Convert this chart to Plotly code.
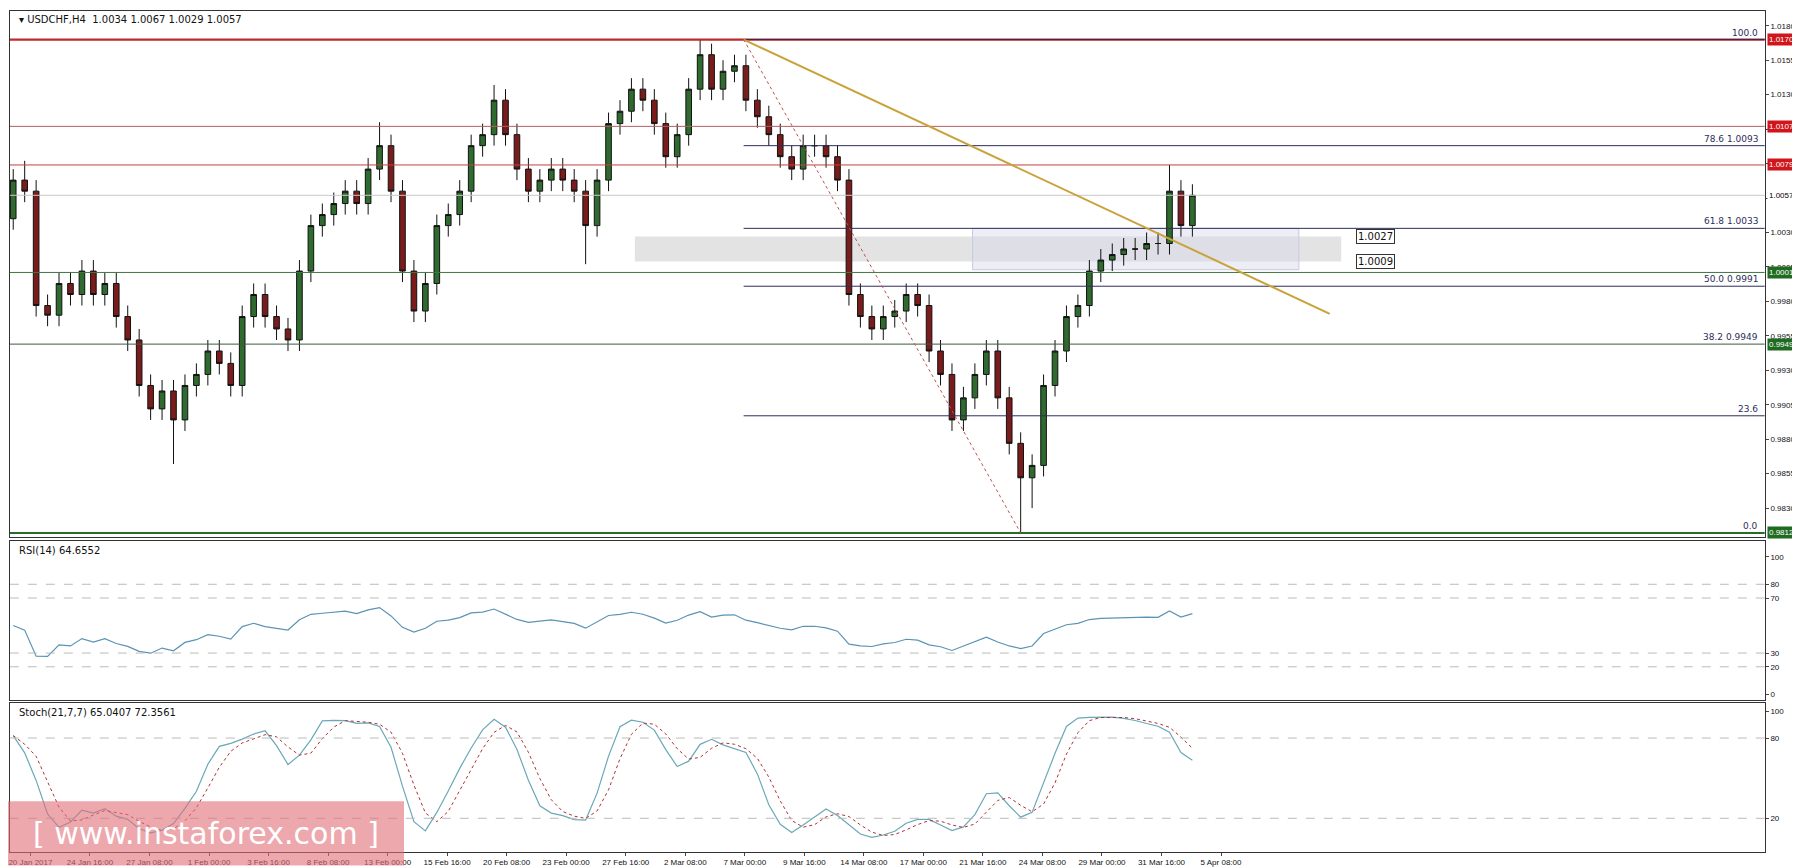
import plotly.graph_objects as go
import pandas as pd
import numpy as np

closes = [1.0068,1.0060,0.9977,0.9970,0.9993,0.9985,1.0002,0.9985,0.9993,0.9969,
          0.9952,0.9919,0.9902,0.9915,0.9894,0.9919,0.9927,0.9944,0.9935,0.9919,
          0.9969,0.9985,0.9969,0.9960,0.9952,1.0002,1.0035,1.0043,1.0051,1.0060,
          1.0051,1.0076,1.0093,1.0060,1.0002,0.9973,0.9993,1.0035,1.0043,1.0060,
          1.0093,1.0101,1.0126,1.0101,1.0076,1.0060,1.0068,1.0076,1.0068,1.0060,
          1.0035,1.0068,1.0109,1.0118,1.0134,1.0126,1.0109,1.0085,1.0101,1.0134,
          1.0159,1.0134,1.0147,1.0151,1.0126,1.0114,1.0101,1.0085,1.0076,1.0093,
          1.0093,1.0085,1.0068,0.9985,0.9969,0.9960,0.9969,0.9973,0.9985,0.9977,
          0.9944,0.9927,0.9894,0.9910,0.9927,0.9944,0.9910,0.9877,0.9852,0.9861,
          0.9919,0.9944,0.9969,0.9977,1.0002,1.0010,1.0014,1.0018,1.0018,1.0022,
          1.0022,1.0060,1.0035,1.0057]
first_open = 1.0040
wick = [0.0008]*len(closes)
extreme_high = {60: 1.0170, 32: 1.0110, 42: 1.0137, 1: 1.0082, 101: 1.0079}
extreme_low = {88: 0.9812, 14: 0.9862, 89: 0.9830, 50: 1.0007}

tick_labels = ["20 Jan 2017","24 Jan 16:00","27 Jan 08:00","1 Feb 00:00","3 Feb 16:00",
               "8 Feb 08:00","13 Feb 00:00","15 Feb 16:00","20 Feb 08:00","23 Feb 00:00",
               "27 Feb 16:00","2 Mar 08:00","7 Mar 00:00","9 Mar 16:00","14 Mar 08:00",
               "17 Mar 00:00","21 Mar 16:00","24 Mar 08:00","29 Mar 00:00","31 Mar 16:00",
               "5 Apr 08:00"]
tick_pos = [1.5 + 5.2*k for k in range(len(tick_labels))]

n = len(closes)
idx = list(range(n))
opens = [first_open] + closes[:-1]
highs = [max(o, c) + w for o, c, w in zip(opens, closes, wick)]
lows = [min(o, c) - w for o, c, w in zip(opens, closes, wick)]
for k, v in extreme_high.items(): highs[k] = v
for k, v in extreme_low.items(): lows[k] = v

s = pd.Series(closes)
d = s.diff().fillna(0)
up = d.clip(lower=0).ewm(alpha=1/14, adjust=False).mean() + 0.0004
dn = (-d.clip(upper=0)).ewm(alpha=1/14, adjust=False).mean() + 0.0004
rsi = 100 - 100/(1+up/dn)
hh = pd.Series(highs).rolling(7, min_periods=1).max()
ll = pd.Series(lows).rolling(7, min_periods=1).min()
k_ = ((s-ll)/(hh-ll)*100).rolling(3, min_periods=1).mean()
d_ = k_.rolling(3, min_periods=1).mean()

fig = go.Figure()
fig.add_trace(go.Candlestick(x=idx, open=opens, high=highs, low=lows, close=closes,
    increasing=dict(line=dict(color="#111", width=1), fillcolor="#2f6b2f"),
    decreasing=dict(line=dict(color="#111", width=1), fillcolor="#7a1c1c"),
    whiskerwidth=0, showlegend=False, xaxis="x", yaxis="y"))
fig.add_trace(go.Scatter(x=idx, y=rsi, mode="lines", line=dict(color="#5b93b5", width=1.2),
    showlegend=False, xaxis="x2", yaxis="y2"))
fig.add_trace(go.Scatter(x=idx, y=k_, mode="lines", line=dict(color="#6aa8b8", width=1.2),
    showlegend=False, xaxis="x3", yaxis="y3"))
fig.add_trace(go.Scatter(x=idx, y=d_, mode="lines", line=dict(color="#b03030", width=1, dash="dot"),
    showlegend=False, xaxis="x3", yaxis="y3"))

XR = [-0.3, 153]
DOM = [0.001, 0.976]
ax = dict(range=XR, showgrid=False, zeroline=False, showline=True, linecolor="#333", mirror=True,
          rangeslider=dict(visible=False), ticks="")
yt = dict(size=8, family="Liberation Sans")
fig.update_layout(
    width=1800, height=868, paper_bgcolor="white", plot_bgcolor="white",
    margin=dict(l=0, r=0, t=0, b=0), font=dict(family="DejaVu Sans", size=10, color="#111"),
    xaxis=dict(ax, domain=DOM, anchor="y", showticklabels=False),
    xaxis2=dict(ax, domain=DOM, anchor="y2", showticklabels=False, matches="x"),
    xaxis3=dict(ax, domain=DOM, anchor="y3", matches="x", tickvals=tick_pos,
                ticktext=tick_labels, ticks="outside", ticklen=3,
                tickfont=dict(size=8, family="Liberation Sans"), tickangle=0),
    yaxis=dict(domain=[0.390, 0.997], range=[0.98087, 1.0191], side="right", showgrid=False,
               tickvals=[round(0.9805+0.0025*i, 4) for i in range(16)], tickformat=".4f", tickfont=yt,
               ticks="outside", ticklen=3, showline=True, linecolor="#333", mirror=True, zeroline=False),
    yaxis2=dict(domain=[0.203, 0.386], range=[-4, 111.5], side="right", showgrid=False, tickfont=yt,
                tickvals=[0, 20, 30, 70, 80, 100], ticks="outside", ticklen=3,
                showline=True, linecolor="#333", mirror=True, zeroline=False),
    yaxis3=dict(domain=[0.028, 0.199], range=[-5, 106], side="right", showgrid=False, tickfont=yt,
                tickvals=[20, 80, 100], ticks="outside", ticklen=3,
                showline=True, linecolor="#333", mirror=True, zeroline=False),
)

shapes = []
def hline(y, color, width=1, x0=XR[0], x1=XR[1], dash="solid", yref="y", xref="x"):
    shapes.append(dict(type="line", xref=xref, yref=yref, x0=x0, x1=x1, y0=y, y1=y,
                       line=dict(color=color, width=width, dash=dash)))
for v in [20, 30, 70, 80]:
    hline(v, "#bbb", 1, dash="dash", yref="y2", xref="x2")
for v in [20, 80]:
    hline(v, "#bbb", 1, dash="dash", yref="y3", xref="x3")
shapes.append(dict(type="rect", xref="x", yref="y", x0=54.3, x1=116, y0=1.0009, y1=1.0027,
                   fillcolor="rgba(200,200,200,0.5)", line=dict(width=0), layer="below"))
shapes.append(dict(type="rect", xref="x", yref="y", x0=83.8, x1=112.3, y0=1.0003, y1=1.0033,
                   fillcolor="rgba(215,215,235,0.45)", line=dict(color="#c8c8e0", width=1), layer="below"))
hline(1.0170, "#c0282d", 2.2)
hline(1.0107, "#b06060", 1)
hline(1.0079, "#c04040", 1)
hline(1.0057, "#c8c8c8", 1)
hline(1.0001, "#3d7a3d", 1)
hline(0.9949, "#3d5a3d", 1)
hline(0.9812, "#2a6a2a", 2)
for v in [1.0170, 1.0093, 1.0033, 0.9991, 0.9897]:
    hline(v, "#2d2d5a", 1, x0=63.8)
shapes.append(dict(type="line", xref="x", yref="y", x0=63.8, x1=115, y0=1.0170, y1=0.9971,
                   line=dict(color="#c9a23a", width=2)))
shapes.append(dict(type="line", xref="x", yref="y", x0=63.8, x1=88, y0=1.0170, y1=0.9812,
                   line=dict(color="#c05050", width=1, dash="dot")))
shapes.append(dict(type="rect", xref="paper", yref="paper", x0=0, x1=0.22, y0=0.012, y1=0.086,
                   fillcolor="rgba(225,110,120,0.6)", line=dict(width=0)))
fig.update_layout(shapes=shapes)

ann = []
def box(y, txt, bg, fc="white"):
    ann.append(dict(xref="paper", yref="y", x=0.977, y=y, text=txt, showarrow=False, xanchor="left",
                    font=dict(size=8, color=fc, family="Liberation Sans"), bgcolor=bg, borderpad=1))
box(1.0170, "1.0170", "#d0151b"); box(1.0107, "1.0107", "#d0151b"); box(1.0079, "1.0079", "#d0151b")
box(1.0057, "1.0057", "white", "#000"); box(1.0001, "1.0001", "#1f6b1f"); box(0.9949, "0.9949", "#1f6b1f")
box(0.9812, "0.9812", "#1f6b1f")
for v, t in [(1.0170, "100.0"), (1.0093, "78.6 1.0093"), (1.0033, "61.8 1.0033"), (0.9991, "50.0 0.9991"),
             (0.9949, "38.2 0.9949"), (0.9897, "23.6"), (0.9812, "0.0")]:
    ann.append(dict(xref="x", yref="y", x=152.6, y=v, text=t, showarrow=False, xanchor="right",
                    yanchor="bottom", font=dict(size=9, color="#2d2d5a")))
for v, t in [(1.0027, "1.0027"), (1.0009, "1.0009")]:
    ann.append(dict(xref="x", yref="y", x=117.3, y=v, text=t,
                    showarrow=False, xanchor="left", font=dict(size=10), bgcolor="white",
                    bordercolor="#333", borderwidth=1, borderpad=1))
ann.append(dict(xref="paper", yref="paper", x=0.005, y=0.995, xanchor="left", yanchor="top", showarrow=False,
                text="▾ USDCHF,H4  1.0034 1.0067 1.0029 1.0057", font=dict(size=10)))
ann.append(dict(xref="paper", yref="paper", x=0.005, y=0.384, xanchor="left", yanchor="top", showarrow=False,
                text="RSI(14) 64.6552", font=dict(size=10)))
ann.append(dict(xref="paper", yref="paper", x=0.005, y=0.197, xanchor="left", yanchor="top", showarrow=False,
                text="Stoch(21,7,7) 65.0407 72.3561", font=dict(size=10)))
ann.append(dict(xref="paper", yref="paper", x=0.11, y=0.049, xanchor="center", yanchor="middle", showarrow=False,
                text="[ www.instaforex.com ]", font=dict(size=30, color="white")))
fig.update_layout(annotations=ann)
fig.write_html("out.html")
